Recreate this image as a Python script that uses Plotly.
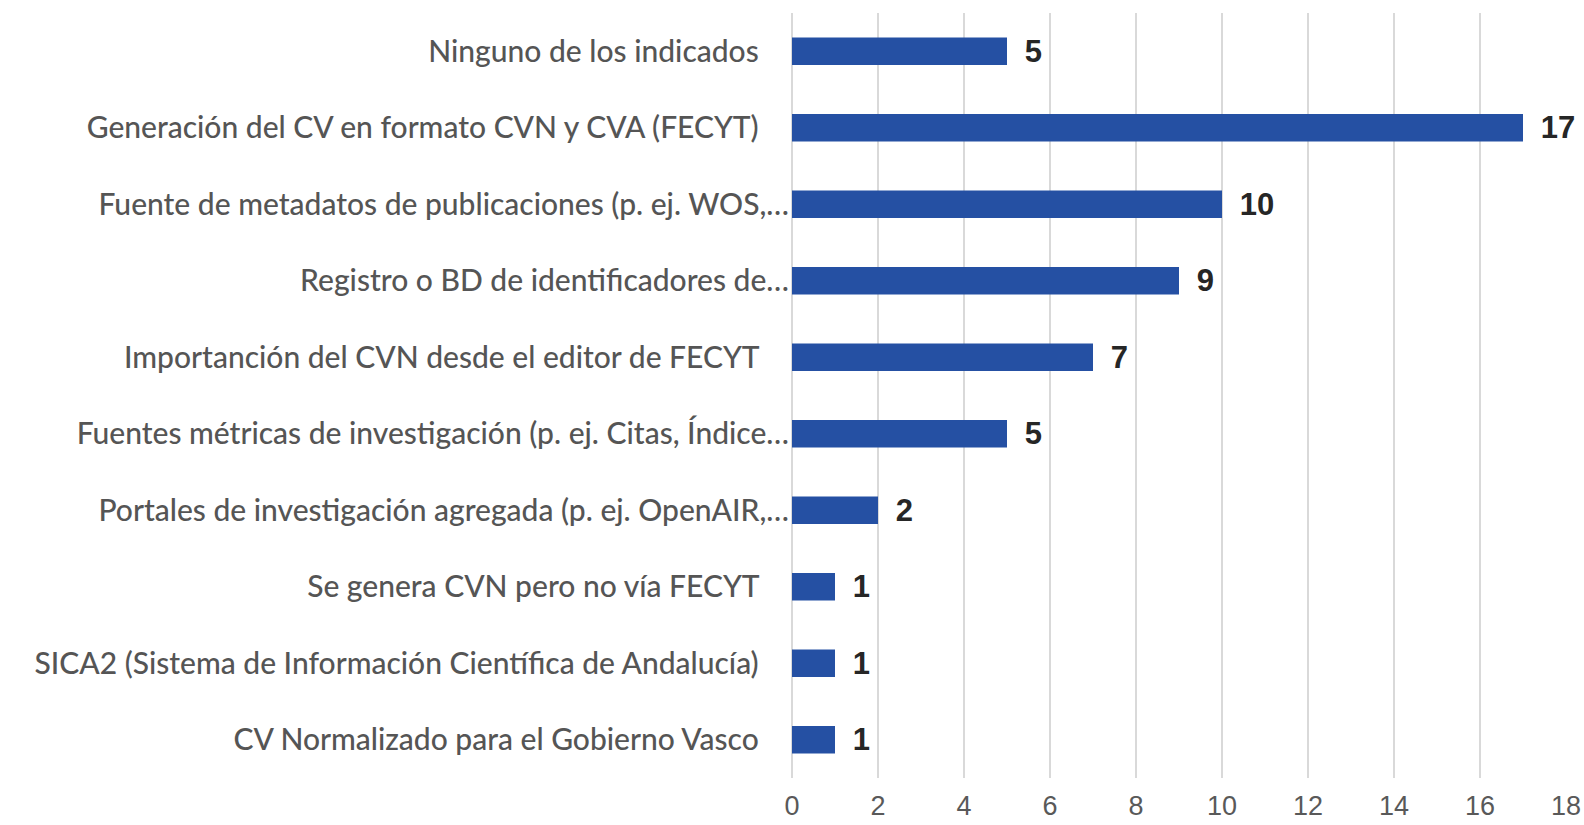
import plotly.graph_objects as go

categories = [
    "Ninguno de los indicados",
    "Generación del CV en formato CVN y CVA (FECYT)",
    "Fuente de metadatos de publicaciones (p. ej. WOS,…",
    "Registro o BD de identificadores de…",
    "Importanción del CVN desde el editor de FECYT",
    "Fuentes métricas de investigación (p. ej. Citas, Índice…",
    "Portales de investigación agregada (p. ej. OpenAIR,…",
    "Se genera CVN pero no vía FECYT",
    "SICA2 (Sistema de Información Científica de Andalucía)",
    "CV Normalizado para el Gobierno Vasco",
]
values = [5, 17, 10, 9, 7, 5, 2, 1, 1, 1]
truncated = [c.endswith("…") for c in categories]
xticks = list(range(0, 19, 2))

ticktext = [c if t else c + "\u00a0\u00a0\u00a0\u00a0" for c, t in zip(categories, truncated)]

fig = go.Figure(go.Bar(
    x=values,
    y=categories,
    orientation="h",
    marker=dict(color="#2550A3", line=dict(width=0)),
    text=[f"\u00a0\u2009{v}" for v in values],
    textposition="outside",
    constraintext="none",
    cliponaxis=False,
    textfont=dict(family="Liberation Sans, Arial", size=31, color="#262626", weight="bold"),
    width=0.36,
))

fig.update_layout(
    width=1584, height=825,
    margin=dict(l=792, r=18, t=13, b=47),
    plot_bgcolor="white", paper_bgcolor="white",
    showlegend=False,
)
fig.update_yaxes(
    categoryorder="array", categoryarray=categories[::-1],
    tickmode="array", tickvals=categories, ticktext=ticktext,
    tickfont=dict(family="Lato, Calibri, sans-serif", size=30, color="#555555", weight=500),
    ticks="", showgrid=False, ticklabelstandoff=2, automargin=False,
)
fig.update_xaxes(
    range=[0, 18], tickvals=xticks, showgrid=True, gridcolor="#d9d9d9", gridwidth=2,
    zeroline=True, zerolinecolor="#d9d9d9", zerolinewidth=2,
    tickfont=dict(family="Liberation Sans Narrow, Arial Narrow, Liberation Sans, sans-serif", size=27, color="#595959"),
    ticks="", automargin=False, ticklabelstandoff=9, ticklabeloverflow="allow",
)
fig.write_html("out.html", config={"displayModeBar": False},
               post_script="document.body.style.margin='0';")
